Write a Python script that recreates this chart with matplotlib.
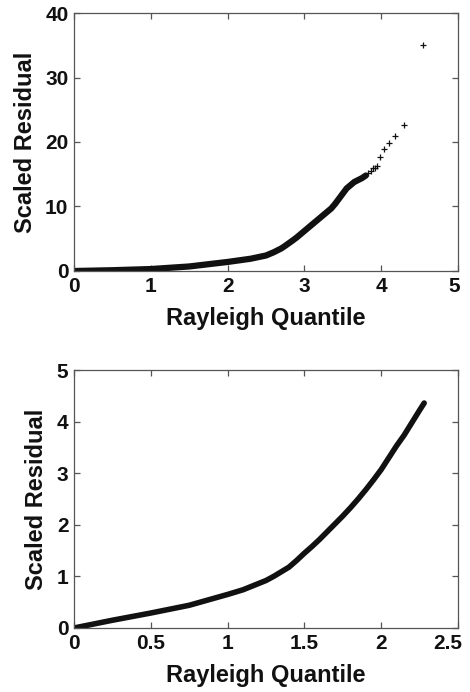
import matplotlib
matplotlib.use("Agg")
import matplotlib.pyplot as plt
import matplotlib.transforms as mtransforms
import numpy as np

plt.rcParams['font.family'] = ['Liberation Sans', 'DejaVu Sans']
plt.rcParams['font.weight'] = 'bold'

# Top panel: dense part of QQ curve
top_x = [0.02, 0.5, 1.0, 1.5, 2.0, 2.3, 2.5, 2.6, 2.7, 2.75, 2.85, 2.9, 3.0, 3.05, 3.1, 3.15,
         3.2, 3.25, 3.3, 3.35, 3.4, 3.45, 3.5, 3.55, 3.6, 3.65, 3.7, 3.75, 3.8]
top_y = [0.0, 0.12, 0.3, 0.7, 1.4, 1.9, 2.4, 2.9, 3.5, 3.9, 4.75, 5.2, 6.2, 6.7, 7.2, 7.7,
         8.2, 8.7, 9.2, 9.7, 10.4, 11.2, 12.0, 12.8, 13.3, 13.8, 14.1, 14.4, 14.8]
# Top panel: sparse tail points (plus markers)
tail_x = [3.83, 3.87, 3.89, 3.92, 3.94, 3.98, 4.04, 4.10, 4.18, 4.30, 4.55]
tail_y = [15.2, 15.5, 15.9, 16.0, 16.3, 17.7, 18.9, 19.9, 20.9, 22.6, 35.1]

# Bottom panel: QQ curve
bot_x = [0.0, 0.1, 0.25, 0.5, 0.75, 1.0, 1.1, 1.25, 1.3, 1.4, 1.45, 1.5, 1.55, 1.6, 1.65, 1.7,
         1.75, 1.8, 1.85, 1.9, 1.95, 2.0, 2.05, 2.1, 2.15, 2.2, 2.25, 2.28]
bot_y = [0.0, 0.06, 0.15, 0.29, 0.44, 0.65, 0.74, 0.92, 1.0, 1.18, 1.31, 1.45, 1.58, 1.72, 1.87, 2.02,
         2.17, 2.33, 2.5, 2.68, 2.87, 3.07, 3.3, 3.53, 3.74, 3.98, 4.22, 4.36]

top_xticks = [0, 1, 2, 3, 4, 5]
top_yticks = [0, 10, 20, 30, 40]
bot_xticks = [0, 0.5, 1, 1.5, 2, 2.5]
bot_xticklabels = ['0', '0.5', '1', '1.5', '2', '2.5']
bot_yticks = [0, 1, 2, 3, 4, 5]

fig = plt.figure(figsize=(4.7, 6.92), dpi=100)
ax1 = fig.add_axes([0.1574, 0.6084, 0.817, 0.3728])
ax2 = fig.add_axes([0.1574, 0.0925, 0.817, 0.3728])

spine_c = '#555555'
tick_fs = 15
label_fs = 17


def style(ax):
    for s in ax.spines.values():
        s.set_color(spine_c)
        s.set_linewidth(0.9)
    ax.tick_params(direction='in', length=4, width=0.9, color=spine_c,
                   top=True, right=True, labelsize=tick_fs, labelcolor='#111111', pad=4)
    for lab in ax.get_xticklabels() + ax.get_yticklabels():
        lab.set_fontweight('bold')
    ax.set_xlabel('Rayleigh Quantile', fontsize=label_fs, fontweight='bold', color='#111111', labelpad=8)
    ax.set_ylabel('Scaled Residual', fontsize=label_fs, fontweight='bold', color='#111111', labelpad=6)


ax1.plot(top_x, top_y, color='#111111', lw=4.5, solid_capstyle='round', solid_joinstyle='round')
ax1.plot(tail_x, tail_y, linestyle='none', marker='+', color='#111111', ms=5, mew=0.9)
ax1.set_xlim(0, 5)
ax1.set_ylim(0, 40)
ax1.set_xticks(top_xticks)
ax1.set_yticks(top_yticks)
style(ax1)

ax2.plot(bot_x, bot_y, color='#111111', lw=4.0, solid_capstyle='round', solid_joinstyle='round')
ax2.set_xlim(0, 2.5)
ax2.set_ylim(0, 5)
ax2.set_xticks(bot_xticks)
ax2.set_xticklabels(bot_xticklabels)
ax2.set_yticks(bot_yticks)
style(ax2)

# keep the last x tick labels inside the figure, like the reference
last1 = ax1.get_xticklabels()[-1]
last1.set_transform(last1.get_transform() + mtransforms.ScaledTranslation(-4 / 100, 0, fig.dpi_scale_trans))
last2 = ax2.get_xticklabels()[-1]
last2.set_transform(last2.get_transform() + mtransforms.ScaledTranslation(-10 / 100, 0, fig.dpi_scale_trans))

fig.savefig('out.png', dpi=100)
